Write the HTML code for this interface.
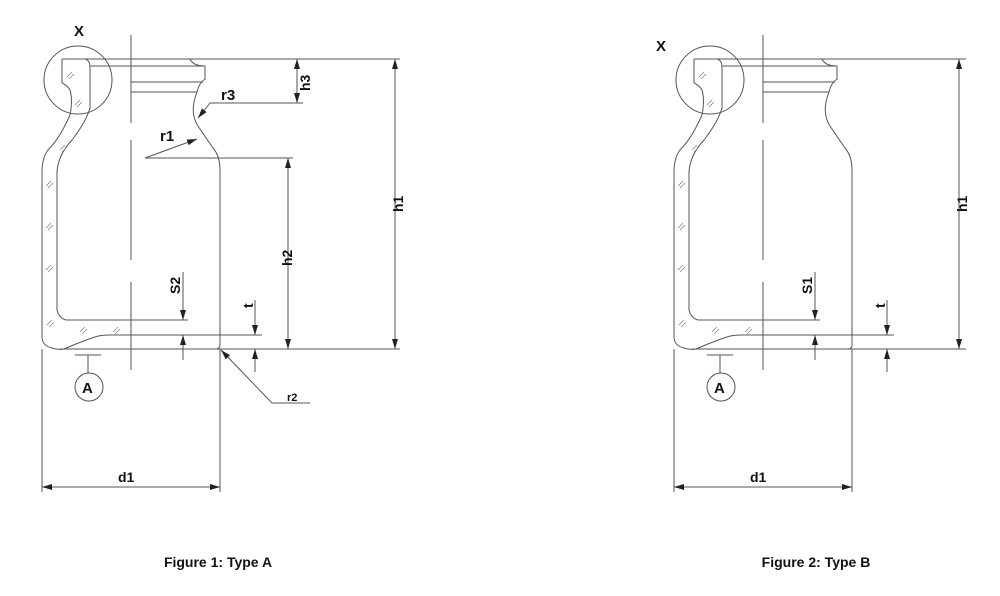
<!DOCTYPE html>
<html><head><meta charset="utf-8"><style>
html,body{margin:0;padding:0;background:#fff;}
svg{display:block;}
text{font-family:"Liberation Sans",Arial,sans-serif;font-weight:bold;fill:#111;}
</style></head><body>
<svg width="1000" height="596" viewBox="0 0 1000 596" xmlns="http://www.w3.org/2000/svg">
<defs>
<marker id="ar" viewBox="0 0 10 6" refX="10" refY="3" markerWidth="10" markerHeight="6" orient="auto-start-reverse" markerUnits="userSpaceOnUse">
<path d="M0,0 L10,3 L0,6 z" fill="#222"/></marker>
<g id="bottle" fill="none" stroke="#555" stroke-width="1">
  <circle cx="78" cy="80" r="34"/>
  <path d="M62 59 L62 83 Q67 85 70 90 Q73 100 70 115 Q60 138 48 150 Q42 158 42 172 L42 338 Q43 346 52 348 Q58 350 64 349"/>
  <path d="M85 59 Q90 60 90 68 L90 108 Q86 122 72 140 Q58 155 57 172 L57 310 Q59 318 66 320 L188 320"/>
  <path d="M64 349 Q80 342 95 337 Q100 335 110 335 L262 335"/>
  <line x1="60" y1="349" x2="218" y2="349"/>
  <line x1="62" y1="59" x2="190" y2="59"/>
  <line x1="90" y1="66" x2="205" y2="66"/>
  <line x1="131" y1="82" x2="203" y2="82"/>
  <line x1="131" y1="92" x2="197" y2="92"/>
  <path d="M190 59 Q193 66 205 66 L205 79 Q199 83 197 92 Q189 112 198 126 Q206 138 213 148 Q220 156 220 170 L220 345 Q220 349 216 349"/>
  <line x1="131" y1="35" x2="131" y2="370" stroke-dasharray="88 17 120 22 200"/>
  <g stroke="#888" stroke-width="0.8">
    <path d="M67 77 l5 -5 M69 79 l5 -5"/>
    <path d="M75 105 l5 -5 M77 107 l5 -5"/>
    <path d="M60 150 l5 -5 M62 152 l5 -5"/>
    <path d="M46 186 l5 -5 M48 188 l5 -5"/>
    <path d="M46 228 l5 -5 M48 230 l5 -5"/>
    <path d="M46 270 l5 -5 M48 272 l5 -5"/>
    <path d="M47 325 l5 -5 M49 327 l5 -5"/>
    <path d="M80 332 l5 -5 M82 334 l5 -5"/>
    <path d="M113 332 l5 -5 M115 334 l5 -5"/>
  </g>
  <line x1="75" y1="355" x2="101" y2="355"/>
  <line x1="88" y1="355" x2="88" y2="373"/>
  <circle cx="89" cy="387" r="14"/>
  <line x1="42" y1="349" x2="42" y2="492"/>
  <line x1="220" y1="349" x2="220" y2="492"/>
  <line x1="42" y1="487" x2="220" y2="487" marker-start="url(#ar)" marker-end="url(#ar)"/>
  <line x1="183" y1="272" x2="183" y2="320" marker-end="url(#ar)"/>
  <line x1="183" y1="360" x2="183" y2="335" marker-end="url(#ar)"/>
  <line x1="255" y1="300" x2="255" y2="335" marker-end="url(#ar)"/>
  <line x1="255" y1="372" x2="255" y2="349" marker-end="url(#ar)"/>
</g>
</defs>

<use href="#bottle"/>
<g fill="none" stroke="#555" stroke-width="1">
  <line x1="190" y1="59" x2="400" y2="59"/>
  <line x1="216" y1="349" x2="400" y2="349"/>
  <line x1="395" y1="59" x2="395" y2="349" marker-start="url(#ar)" marker-end="url(#ar)"/>
  <line x1="297" y1="59" x2="297" y2="103" marker-start="url(#ar)" marker-end="url(#ar)"/>
  <line x1="210" y1="103" x2="303" y2="103"/>
  <line x1="210" y1="103" x2="198" y2="118" marker-end="url(#ar)"/>
  <line x1="145" y1="158" x2="197" y2="139" marker-end="url(#ar)"/>
  <line x1="145" y1="158" x2="293" y2="158"/>
  <line x1="288" y1="158" x2="288" y2="349" marker-start="url(#ar)" marker-end="url(#ar)"/>
  <line x1="272" y1="403" x2="221" y2="350" marker-end="url(#ar)"/>
  <line x1="272" y1="403" x2="310" y2="403"/>
</g>
<text x="74" y="36" font-size="15">X</text>
<text x="221" y="100" font-size="15">r3</text>
<text x="160" y="141" font-size="15">r1</text>
<text x="287" y="401" font-size="11">r2</text>
<text x="118" y="482" font-size="14">d1</text>
<text x="82" y="393" font-size="15">A</text>
<text font-size="14" transform="translate(310,91) rotate(-90)">h3</text>
<text font-size="14" transform="translate(403,212) rotate(-90)">h1</text>
<text font-size="14" transform="translate(292,266) rotate(-90)">h2</text>
<text font-size="14" transform="translate(180,294) rotate(-90)">S2</text>
<text font-size="14" transform="translate(253,308) rotate(-90)">t</text>
<text x="218" y="567" font-size="14" text-anchor="middle">Figure 1: Type A</text>

<g transform="translate(632,0)"><use href="#bottle"/></g>
<g fill="none" stroke="#555" stroke-width="1">
  <line x1="822" y1="59" x2="966" y2="59"/>
  <line x1="848" y1="349" x2="966" y2="349"/>
  <line x1="959" y1="59" x2="959" y2="349" marker-start="url(#ar)" marker-end="url(#ar)"/>
</g>
<text x="656" y="51" font-size="15">X</text>
<text x="750" y="482" font-size="14">d1</text>
<text x="714" y="393" font-size="15">A</text>
<text font-size="14" transform="translate(967,212) rotate(-90)">h1</text>
<text font-size="14" transform="translate(812,294) rotate(-90)">S1</text>
<text font-size="14" transform="translate(885,308) rotate(-90)">t</text>
<text x="816" y="567" font-size="14" text-anchor="middle">Figure 2: Type B</text>
</svg>
</body></html>
